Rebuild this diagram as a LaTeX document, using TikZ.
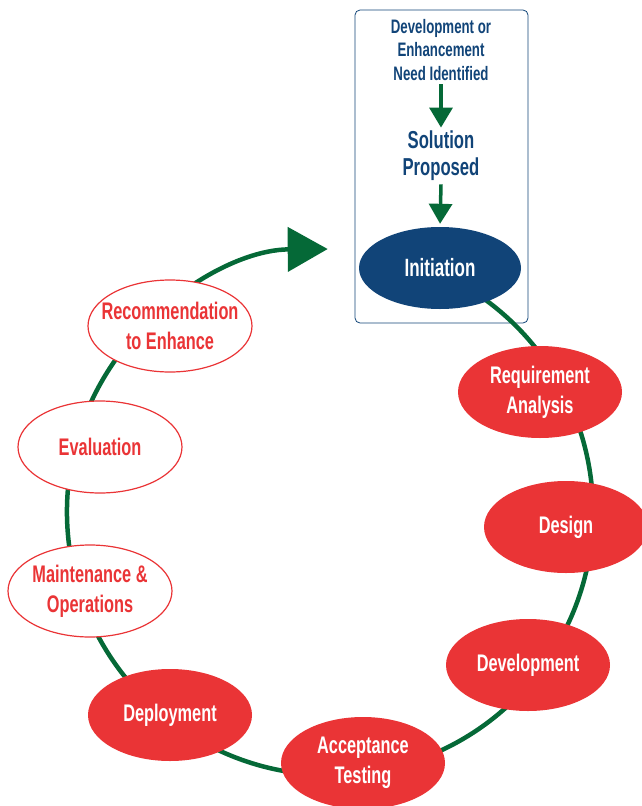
\documentclass[tikz,border=0pt]{standalone}
\usepackage{fontspec}
\setmainfont{Liberation Sans}[FakeStretch=0.68]
\usetikzlibrary{arrows.meta, shapes.geometric, positioning}
\definecolor{sdlcred}{RGB}{234, 52, 54}
\definecolor{sdlcnavy}{RGB}{17, 68, 120}
\definecolor{sdlcgreen}{RGB}{5, 105, 55}

\begin{document}
\begin{tikzpicture}[x=1pt, y=-1pt,
  redball/.style={ellipse, fill=sdlcred, minimum width=164pt, minimum height=92pt, inner sep=0pt},
  redring/.style={ellipse, draw=sdlcred, line width=1.2pt, fill=white, minimum width=164pt, minimum height=92pt, inner sep=0pt},
  whitelbl/.style={text=white, align=center, font=\bfseries\fontsize{24}{30}\selectfont},
  redlbl/.style={text=sdlcred, align=center, font=\bfseries\fontsize{24}{30}\selectfont},
  navylbl/.style={text=sdlcnavy, align=center, font=\bfseries\fontsize{19.5}{23.5}\selectfont},
  downarrow/.style={line width=3.5pt, draw=sdlcgreen, -{Triangle[length=20pt, width=23pt]}},
  cyclearrow/.style={line width=4.5pt, draw=sdlcgreen, -{Triangle[length=40pt, width=44pt]}}
]
  \useasboundingbox (0,0) rectangle (641,806);

  % Entry box
  \node[draw=sdlcnavy, line width=0.8pt, rounded corners=5pt, minimum width=173pt, minimum height=313pt] (frame) at (441.5,166.5) {};
  \node[navylbl] (need) at (441,50) {Development or\\Enhancement\\Need Identified};
  \node[navylbl, font=\bfseries\fontsize{24.5}{27}\selectfont] (solution) at (441,156) {Solution\\Proposed};

  % Life cycle
  \coordinate (hub) at (330,512);
  \draw[cyclearrow] ([shift={(60:263pt)}]hub) arc[start angle=60, end angle=-269.5, radius=263pt];

  \node[redball, fill=sdlcnavy, minimum width=162pt, minimum height=82pt,
        label={[whitelbl, font=\bfseries\fontsize{25}{30}\selectfont]center:Initiation}] (init) at (440,268) {};
  \draw[downarrow] (need.south) -- (solution.north);
  \draw[downarrow, shorten >=3pt] (solution.south) -- (init.north);

  \node[redball, label={[whitelbl]center:Requirement\\Analysis}] (req) at (540,392) {};
  \node[redball, label={[whitelbl]center:Design}] (design) at (566,527) {};
  \node[redball, label={[whitelbl]center:Development}] (dev) at (528,665) {};
  \node[redball, label={[whitelbl]center:Acceptance\\Testing}] (accept) at (363,763) {};
  \node[redball, label={[whitelbl]center:Deployment}] (deploy) at (170,715) {};
  \node[redring, label={[redlbl]center:Maintenance \&\\Operations}] (maint) at (90,591) {};
  \node[redring, label={[redlbl]center:Evaluation}] (eval) at (100,447) {};
  \node[redring, label={[redlbl]center:Recommendation\\to Enhance}] (recommend) at (170,326) {};

\end{tikzpicture}
\end{document}
